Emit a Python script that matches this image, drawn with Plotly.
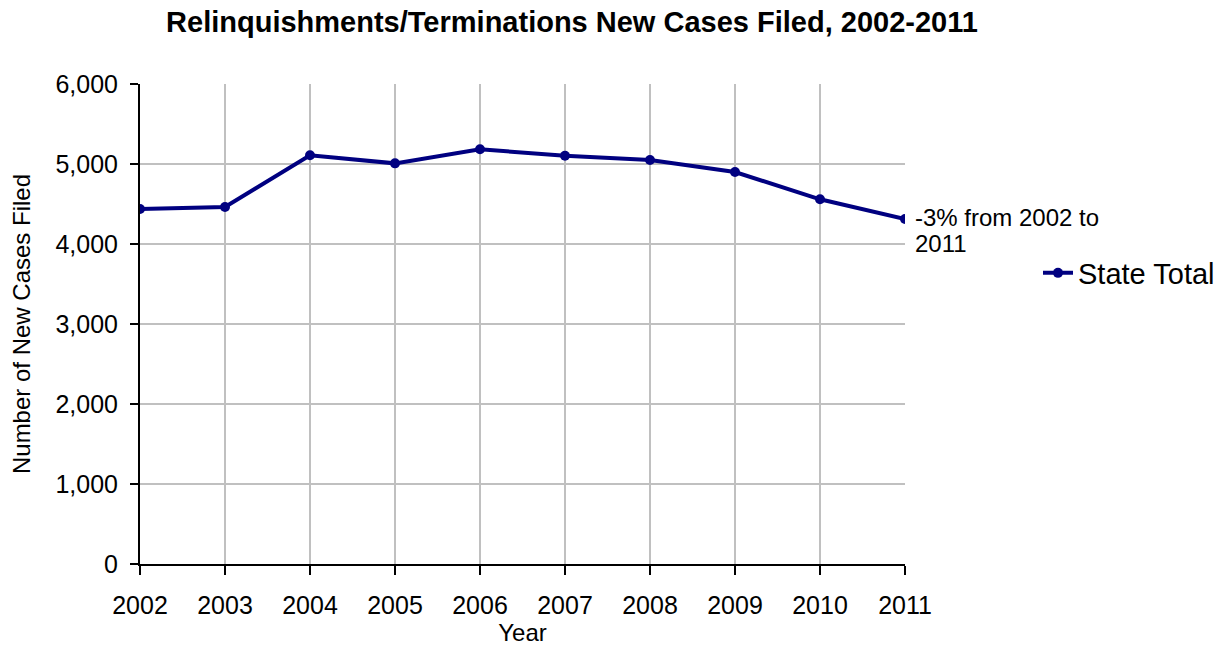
import plotly.graph_objects as go

years = [2002, 2003, 2004, 2005, 2006, 2007, 2008, 2009, 2010, 2011]
state_total = [4437, 4462, 5110, 5008, 5184, 5104, 5050, 4900, 4559, 4312]
y_ticks = [0, 1000, 2000, 3000, 4000, 5000, 6000]
y_tick_labels = ["0", "1,000", "2,000", "3,000", "4,000", "5,000", "6,000"]
annotation_lines = ["-3% from 2002 to", "2011"]

FONT = "Liberation Sans, Arial, sans-serif"
L, R, T, B = 140, 317, 84, 83
PW, PH = 1222 - L - R, 647 - T - B

fig = go.Figure()
fig.add_trace(go.Scatter(
    x=years, y=state_total, mode="lines+markers", name="State Total",
    line=dict(color="#000080", width=4),
    marker=dict(color="#000080", size=10),
))

for i, line in enumerate(annotation_lines):
    fig.add_annotation(
        x=years[-1], y=state_total[-1], xref="x", yref="y",
        text=line, showarrow=False, align="left",
        xanchor="left", yanchor="middle", xshift=8, yshift=2 - 26 * i,
        font=dict(family=FONT, size=24, color="black"),
    )

fig.update_layout(
    width=1222, height=647,
    margin=dict(l=L, r=R, t=T, b=B, autoexpand=False),
    paper_bgcolor="white", plot_bgcolor="white",
    font=dict(family=FONT, color="black"),
    title=dict(
        text="<b>Relinquishments/Terminations New Cases Filed, 2002-2011</b>",
        x=572 / 1222, xref="container", xanchor="center",
        y=1 - 22 / 647, yref="container", yanchor="middle",
        font=dict(family=FONT, size=29, color="black"),
    ),
    showlegend=True,
    legend=dict(
        x=(1038 - L) / PW, xref="paper", y=(647 - B - 273) / PH, yref="paper",
        xanchor="left", yanchor="middle",
        font=dict(family=FONT, size=29, color="black"),
        bgcolor="rgba(0,0,0,0)",
    ),
    xaxis=dict(
        range=[2002, 2011], tickmode="array", tickvals=years,
        ticktext=[str(y) for y in years],
        showgrid=True, gridcolor="#c0c0c0", gridwidth=1.5,
        showline=True, linecolor="black", linewidth=2,
        ticks="outside", ticklen=9, tickcolor="black", tickwidth=1.5,
        ticklabelstandoff=9, automargin=False,
        tickfont=dict(family=FONT, size=25, color="black"),
        title=dict(text="Year", font=dict(family=FONT, size=24, color="black"), standoff=5),
        zeroline=False,
    ),
    yaxis=dict(
        range=[0, 6000], tickmode="array", tickvals=y_ticks, ticktext=y_tick_labels,
        showgrid=True, gridcolor="#c0c0c0", gridwidth=1.5,
        showline=True, linecolor="black", linewidth=2,
        ticks="outside", ticklen=8, tickcolor="black", tickwidth=1.5,
        ticklabelstandoff=7, automargin=False,
        tickfont=dict(family=FONT, size=25, color="black"),
        title=dict(text="Number of New Cases Filed", font=dict(family=FONT, size=24, color="black"), standoff=18),
        zeroline=False,
    ),
)

fig.write_html("out.html", config={"displayModeBar": False},
               post_script="document.body.style.margin='0';")
